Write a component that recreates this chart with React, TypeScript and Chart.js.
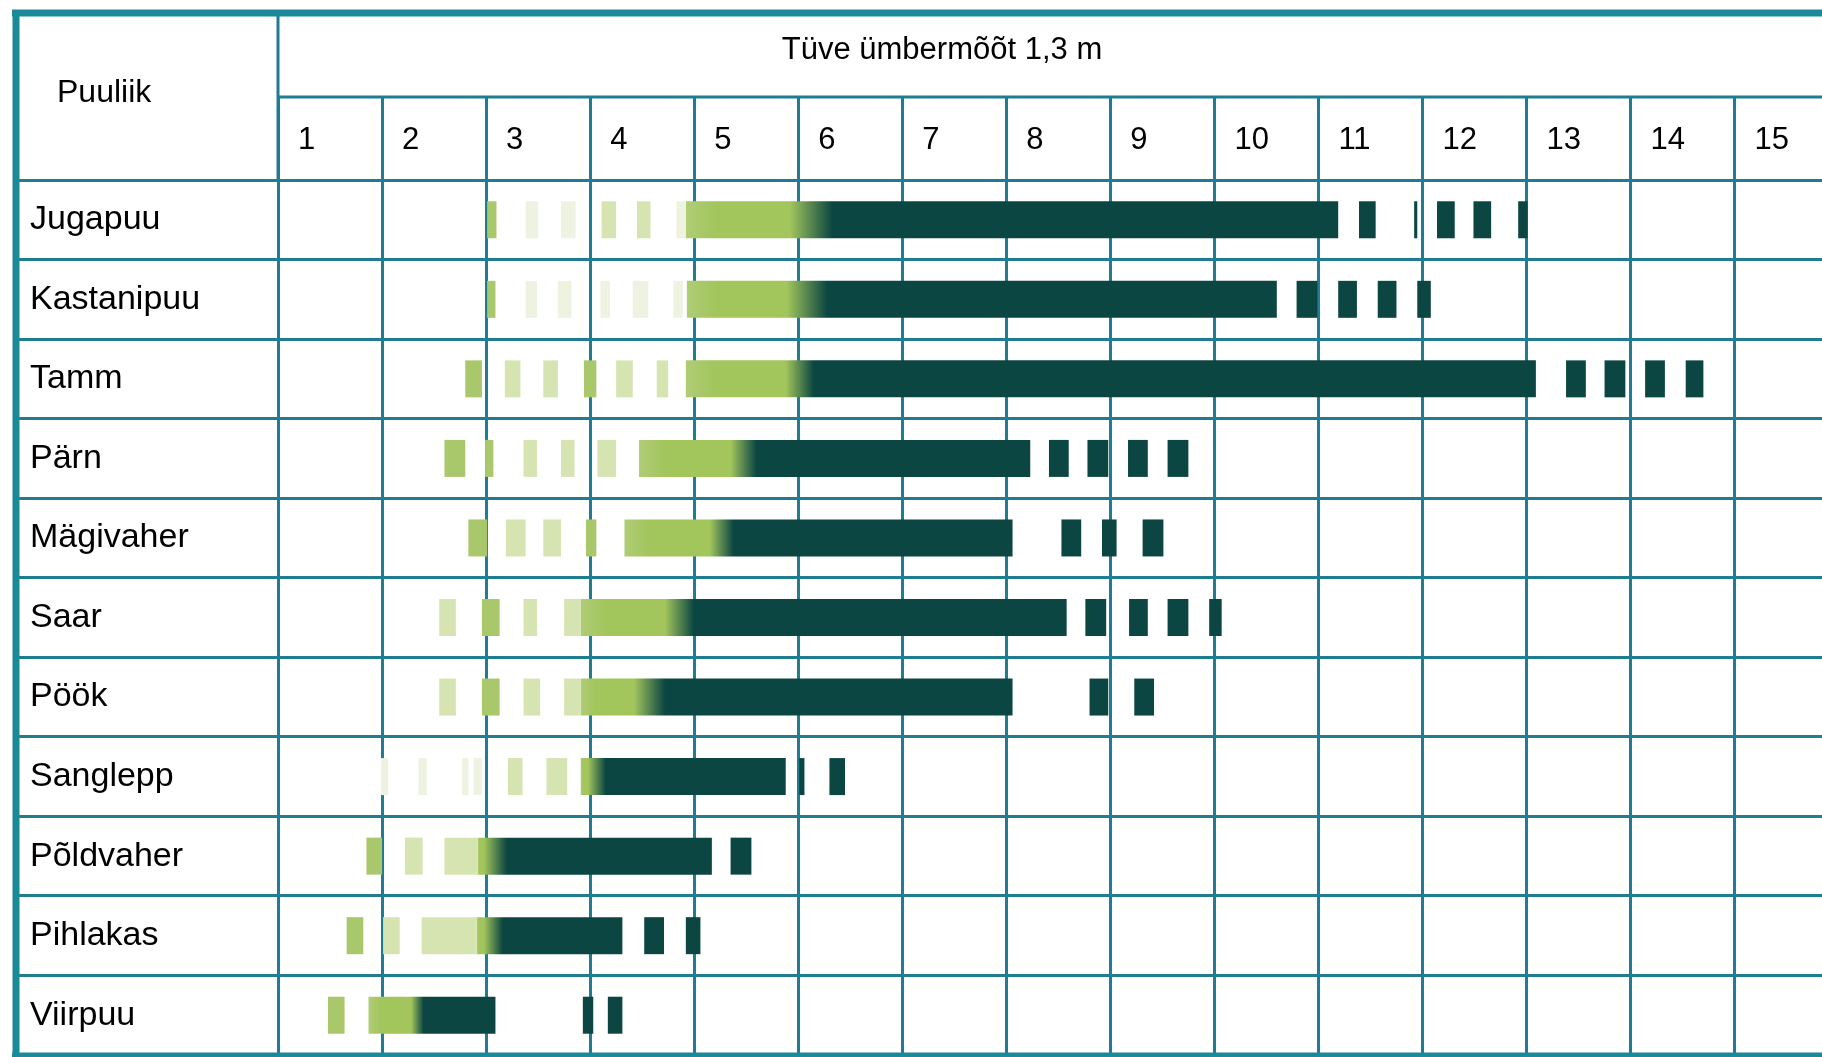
import { useEffect, useRef } from 'react';
import { Chart, registerables } from 'chart.js';

Chart.register(...registerables);

// ---------- data ----------
const species = ['Jugapuu', 'Kastanipuu', 'Tamm', 'Pärn', 'Mägivaher', 'Saar', 'Pöök', 'Sanglepp', 'Põldvaher', 'Pihlakas', 'Viirpuu'];
const circumferenceTicks = [1, 2, 3, 4, 5, 6, 7, 8, 9, 10, 11, 12, 13, 14, 15];
const axisTitle = 'Tüve ümbermõõt 1,3 m';
const cornerLabel = 'Puuliik';

// main bar (light green fading to dark)
const barStart = [4.92, 4.93, 4.92, 4.47, 4.33, 3.91, 3.91, 3.91, 2.92, 2.91, 1.87];
const fadeStart = [5.92, 5.89, 5.88, 5.35, 5.15, 4.72, 4.42, 3.98, 2.98, 2.98, 2.28];
const fadeEnd = [6.33, 6.28, 6.15, 5.6, 5.38, 5.0, 4.72, 4.15, 3.2, 3.16, 2.4];
const barEnd = [11.19, 10.6, 13.09, 8.23, 8.06, 8.58, 8.06, 5.88, 5.17, 4.31, 3.09];

// young stage dashes (left of main bar)
const youngStrong: number[][][] = [
  [[3.01, 3.1]],
  [[3.01, 3.09]],
  [[2.8, 2.96], [3.94, 4.06]],
  [[2.6, 2.8], [2.99, 3.07]],
  [[2.83, 3.01], [3.96, 4.06]],
  [[2.96, 3.13]],
  [[2.96, 3.13]],
  [],
  [[1.85, 2.0]],
  [[1.66, 1.82]],
  [[1.48, 1.64]],
];
const youngPale: number[][][] = [
  [[4.11, 4.25], [4.45, 4.58]],
  [],
  [[3.18, 3.33], [3.55, 3.69], [4.25, 4.41], [4.64, 4.75]],
  [[3.36, 3.49], [3.72, 3.85], [4.07, 4.25]],
  [[3.19, 3.38], [3.55, 3.72]],
  [[2.55, 2.71], [3.36, 3.49], [3.75, 3.91]],
  [[2.55, 2.71], [3.36, 3.52], [3.75, 3.91]],
  [[3.21, 3.35], [3.58, 3.78]],
  [[2.22, 2.39], [2.6, 2.92]],
  [[2.01, 2.17], [2.38, 2.91]],
  [],
];
const youngFaint: number[][][] = [
  [[3.38, 3.5], [3.72, 3.86], [4.83, 4.92]],
  [[3.38, 3.49], [3.69, 3.82], [4.1, 4.19], [4.41, 4.56], [4.8, 4.89]],
  [],
  [],
  [],
  [],
  [],
  [[1.99, 2.06], [2.35, 2.43], [2.77, 2.83], [2.88, 2.96]],
  [],
  [],
  [],
];
// old stage dashes (right of main bar)
const oldDashes: number[][][] = [
  [[11.39, 11.55], [11.92, 11.95], [12.14, 12.31], [12.49, 12.66], [12.92, 13.01]],
  [[10.79, 10.99], [11.19, 11.37], [11.57, 11.75], [11.95, 12.08]],
  [[13.38, 13.57], [13.75, 13.95], [14.14, 14.33], [14.53, 14.7]],
  [[8.41, 8.6], [8.78, 8.98], [9.17, 9.36], [9.55, 9.75]],
  [[8.53, 8.72], [8.92, 9.06], [9.31, 9.51]],
  [[8.76, 8.96], [9.18, 9.36], [9.55, 9.75], [9.95, 10.07]],
  [[8.8, 8.98], [9.23, 9.42]],
  [[6.01, 6.06], [6.3, 6.45]],
  [[5.35, 5.55]],
  [[4.52, 4.71], [4.92, 5.06]],
  [[3.93, 4.03], [4.17, 4.31]],
];

// ---------- styles ----------
const DARK = '#0b4642';
const LIGHT_START = '#b0cc76';
const LIGHT = '#a2c55c';
const STRONG = '#a9c76b';
const PALE = '#d6e4b2';
const FAINT = '#edf2e1';
const GRID = '#1f7d92';
const BORDER = '#1b8a98';
const FONT = "'Liberation Sans', Arial, sans-serif";

const toPoints = (groups: number[][][]) =>
  groups.flatMap((g, i) => g.map(([s, e]) => ({ x: [s, e], y: species[i] })));

const headerPlugin = {
  id: 'tableHeader',
  afterDraw(chart: any) {
    const { ctx, chartArea } = chart;
    const yScale = chart.scales.y;
    const xScale = chart.scales.x;
    const colLine = yScale.right;
    const divider = chartArea.top - xScale.options.grid.tickLength;
    ctx.save();
    // header divider and label column line
    ctx.strokeStyle = GRID;
    ctx.lineWidth = 3;
    ctx.beginPath();
    ctx.moveTo(colLine, divider);
    ctx.lineTo(chart.width, divider);
    ctx.moveTo(colLine, 13);
    ctx.lineTo(colLine, chartArea.top);
    ctx.stroke();
    // outer frame
    ctx.strokeStyle = BORDER;
    ctx.lineWidth = 7;
    ctx.beginPath();
    ctx.moveTo(12, 13);
    ctx.lineTo(chart.width, 13);
    ctx.moveTo(16, 10);
    ctx.lineTo(16, chart.height);
    ctx.moveTo(12, chartArea.bottom + 1);
    ctx.lineTo(chart.width, chartArea.bottom + 1);
    ctx.stroke();
    // texts
    ctx.fillStyle = '#000';
    ctx.textBaseline = 'alphabetic';
    ctx.font = `32px ${FONT}`;
    ctx.textAlign = 'left';
    ctx.fillText(cornerLabel, 57, 102);
    ctx.font = `31px ${FONT}`;
    ctx.textAlign = 'center';
    ctx.fillText(axisTitle, 942, 59);
    ctx.restore();
  },
};

export default function App() {
  const ref = useRef<HTMLCanvasElement | null>(null);

  useEffect(() => {
    document.body.style.margin = '0';
    document.body.style.overflow = 'hidden';
    const canvas = ref.current;
    if (!canvas) return;

    const mainGradient = (c: any) => {
      const chart = c.chart;
      const i = c.dataIndex;
      const xs = chart.scales?.x;
      if (!xs || i == null || i < 0) return LIGHT;
      const x0 = xs.getPixelForValue(barStart[i]);
      const x1 = xs.getPixelForValue(barEnd[i]);
      if (!isFinite(x0) || !isFinite(x1) || x1 <= x0) return LIGHT;
      const span = barEnd[i] - barStart[i];
      const clamp = (v: number) => Math.min(1, Math.max(0, v));
      const g = chart.ctx.createLinearGradient(x0, 0, x1, 0);
      g.addColorStop(0, LIGHT_START);
      g.addColorStop(clamp((fadeStart[i] - barStart[i]) / span * 0.3), LIGHT);
      g.addColorStop(clamp((fadeStart[i] - barStart[i]) / span), LIGHT);
      g.addColorStop(clamp((fadeEnd[i] - barStart[i]) / span), DARK);
      g.addColorStop(1, DARK);
      return g;
    };

    const common = {
      grouped: false,
      borderWidth: 0,
      borderSkipped: false,
      categoryPercentage: 1,
      barPercentage: 0.465,
    };

    const chart = new Chart(canvas, {
      type: 'bar',
      data: {
        labels: species,
        datasets: [
          { ...common, label: 'young faint', data: toPoints(youngFaint) as any, backgroundColor: FAINT },
          { ...common, label: 'young pale', data: toPoints(youngPale) as any, backgroundColor: PALE },
          { ...common, label: 'young', data: toPoints(youngStrong) as any, backgroundColor: STRONG },
          {
            ...common,
            label: 'main',
            data: species.map((s, i) => ({ x: [barStart[i], barEnd[i]], y: s })) as any,
            backgroundColor: mainGradient,
          },
          { ...common, label: 'old', data: toPoints(oldDashes) as any, backgroundColor: DARK },
        ],
      },
      options: {
        indexAxis: 'y',
        animation: false,
        responsive: true,
        maintainAspectRatio: false,
        layout: { padding: { left: 30, top: 0, right: 0, bottom: 2 } },
        plugins: { legend: { display: false }, tooltip: { enabled: false }, title: { display: false } },
        scales: {
          x: {
            type: 'linear',
            position: 'top',
            min: 1,
            max: 15.84,
            afterBuildTicks: (scale: any) => {
              scale.ticks = circumferenceTicks.map((v) => ({ value: v }));
            },
            afterFit: (scale: any) => {
              scale.height = 180;
            },
            ticks: {
              autoSkip: false,
              maxRotation: 0,
              align: 'start',
              labelOffset: 20,
              padding: -61.6,
              color: '#000',
              font: { family: FONT, size: 31 },
              callback: (v: any) => String(v),
            },
            grid: { color: GRID, lineWidth: 3, tickLength: 83, drawTicks: true },
            border: { display: true, color: GRID, width: 3 },
          },
          y: {
            type: 'category',
            position: 'left',
            offset: true,
            afterFit: (scale: any) => {
              scale.width = 248;
            },
            ticks: {
              autoSkip: false,
              crossAlign: 'far',
              padding: -30,
              color: '#000',
              font: { family: FONT, size: 34 },
            },
            grid: { color: GRID, lineWidth: 3, offset: true, tickLength: 262, drawTicks: true },
            border: { display: true, color: GRID, width: 3 },
          },
        },
      } as any,
      plugins: [headerPlugin],
    });

    return () => chart.destroy();
  }, []);

  return (
    <div style={{ position: 'relative', width: '1822px', height: '1057px', background: '#fff' }}>
      <canvas ref={ref} />
    </div>
  );
}
